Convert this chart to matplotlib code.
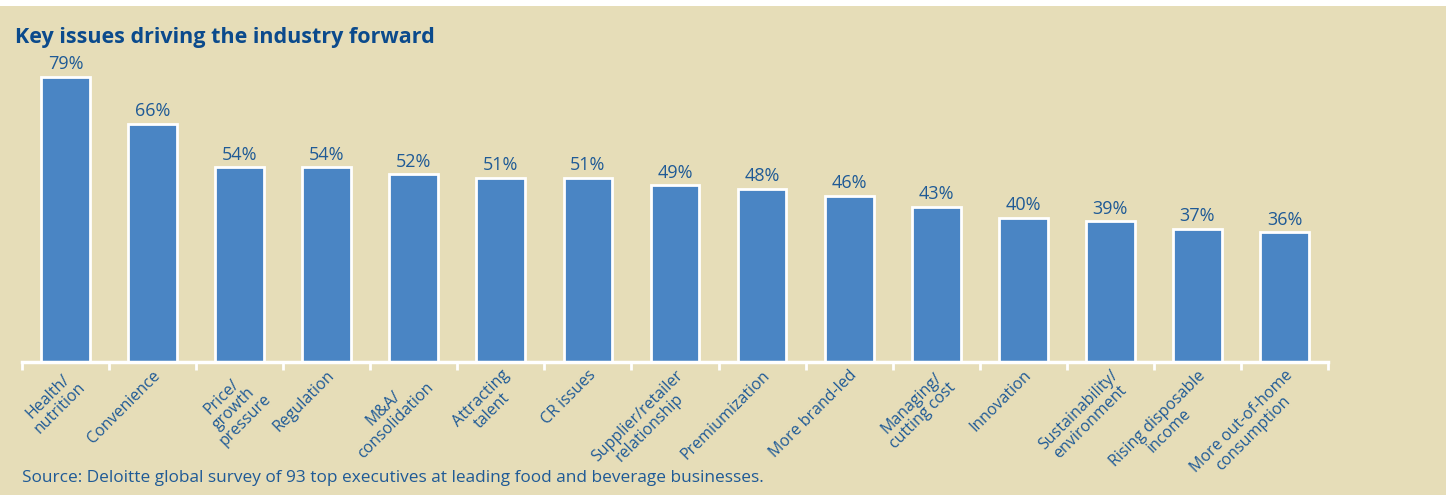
import numpy as np
import matplotlib.pyplot as plt

plt.rcParams['font.family'] = ['Open Sans', 'DejaVu Sans']

categories = ['Health/\nnutrition', 'Convenience', 'Price/\ngrowth\npressure',
              'Regulation', 'M&A/\nconsolidation', 'Attracting\ntalent',
              'CR issues', 'Supplier/retailer\nrelationship', 'Premiumization',
              'More brand-led', 'Managing/\ncutting cost', 'Innovation',
              'Sustainability/\nenvironment', 'Rising disposable\nincome',
              'More out-of-home\nconsumption']
values = [79, 66, 54, 54, 52, 51, 51, 49, 48, 46, 43, 40, 39, 37, 36]

BG = '#E6DDB8'
BAR = '#4A85C4'
TXT = '#1F5A96'
TITLE = '#0B4A8C'

W, H = 1446, 495
fig = plt.figure(figsize=(W / 100, H / 100), dpi=100)
fig.patch.set_facecolor('white')
# beige panel below a thin white strip
fig.patches.append(plt.Rectangle((0, 0), 1, 1 - 6 / H, transform=fig.transFigure,
                                 facecolor=BG, edgecolor='none', zorder=-10))

left, right, base = 22, 1328, 362
ytop = 80
px_per = (base - 77) / 79
ax_h = ytop * px_per
ax = fig.add_axes([left / W, (H - base) / H, (right - left) / W, ax_h / H])
ax.set_facecolor('none')

x = np.arange(len(values))
bars = ax.bar(x, values, width=0.56, color=BAR, edgecolor='white', linewidth=2)
for xi, v in zip(x, values):
    ax.text(xi, v + 1.0, f'{v}%', ha='center', va='bottom', fontsize=13, color=TXT)

ax.set_xlim(-0.5, len(values) - 0.5)
ax.set_ylim(0, ytop)
for s in ['top', 'left', 'right']:
    ax.spines[s].set_visible(False)
ax.spines['bottom'].set_color('white')
ax.spines['bottom'].set_linewidth(2.5)
ax.set_yticks([])

ax.set_xticks(x)
ax.set_xticklabels(categories, rotation=45, ha='right', va='top',
                   rotation_mode='anchor', multialignment='center',
                   fontsize=11.5, color=TXT, linespacing=1.05)
ax.tick_params(axis='x', which='major', length=0, pad=4)
ax.set_xticks(np.arange(-0.5, len(values)), minor=True)
ax.tick_params(axis='x', which='minor', length=6, width=2, color='white')

fig.text(15 / W, 1 - 37 / H, 'Key issues driving the industry forward',
         fontsize=15.5, fontweight='bold', color=TITLE, va='center', ha='left')
fig.text(22 / W, 1 - 478 / H,
         'Source: Deloitte global survey of 93 top executives at leading food and beverage businesses.',
         fontsize=12.4, color=TXT, va='center', ha='left')

fig.savefig('out.png', dpi=100, facecolor=fig.get_facecolor())
